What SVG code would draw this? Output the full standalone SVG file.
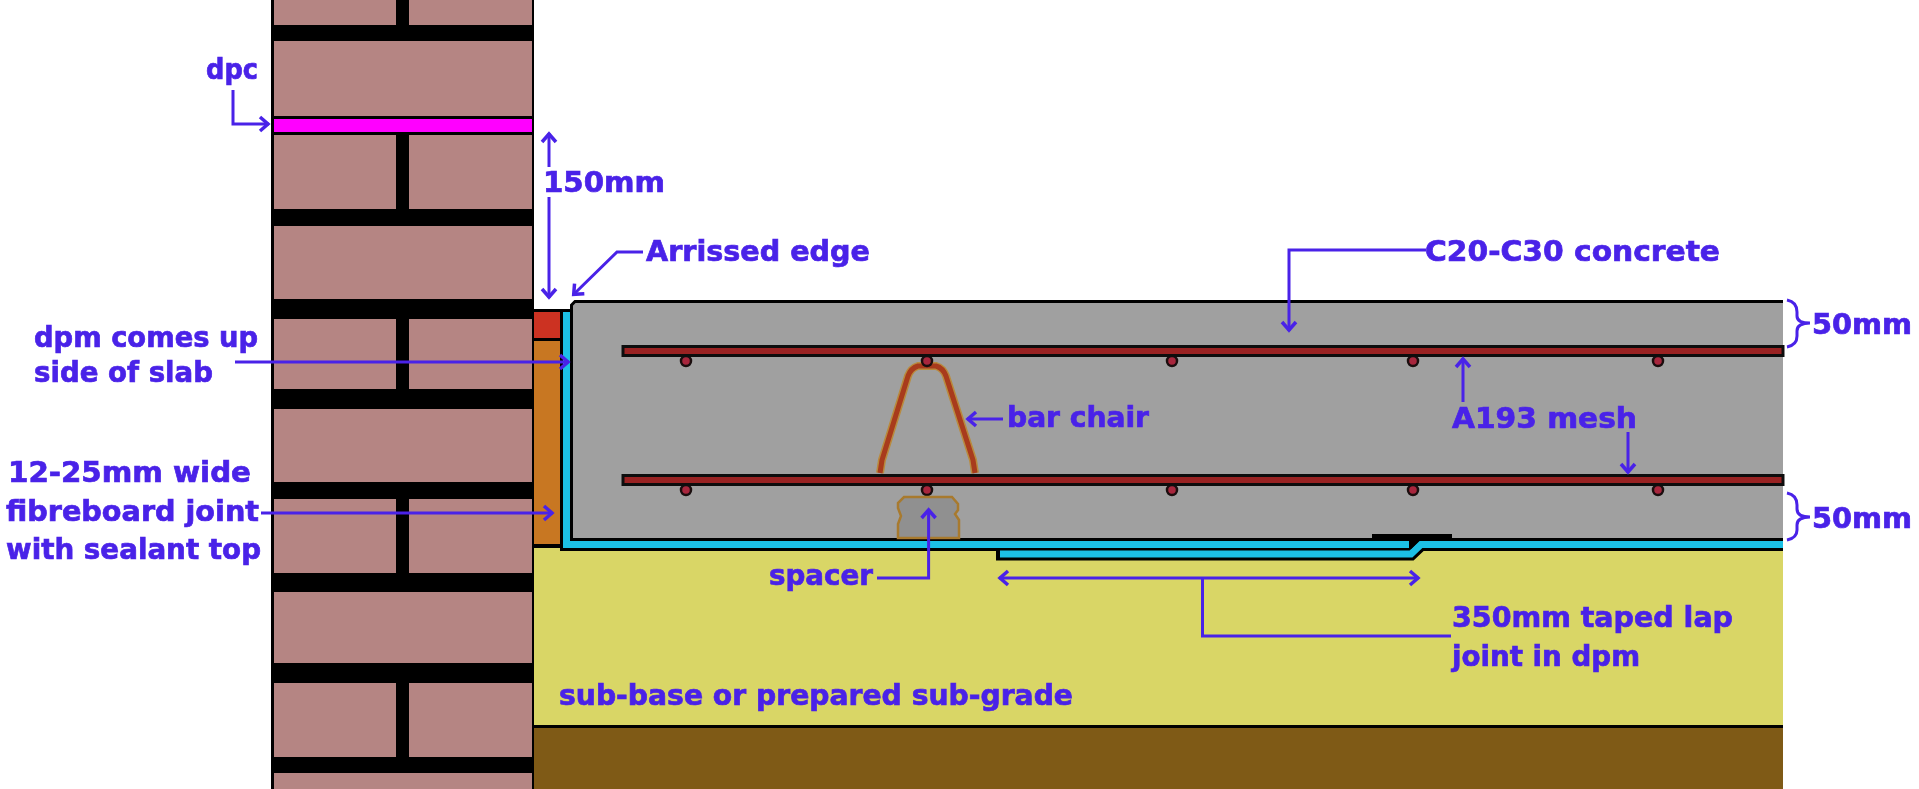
<svg xmlns="http://www.w3.org/2000/svg" width="1919" height="789" viewBox="0 0 1919 789">
<style>
.brick{fill:#b58583}
.lbl{font-family:"DejaVu Sans",sans-serif;font-weight:bold;font-size:28px;fill:#4a22e8;stroke:#4a22e8;stroke-width:.7}
.ld{fill:none;stroke:#4a22e8;stroke-width:3}
.dot{fill:#a8283c;stroke:#1a1010;stroke-width:2.500}
.k{fill:none;stroke:#000}
.c{fill:none;stroke:#1cc0e6;stroke-width:7}
.bar{fill:#992222;stroke:#111;stroke-width:3}
.soft{filter:url(#soft)}
</style>
<defs>
<filter id="soft" x="0" y="0" width="100%" height="100%" filterUnits="objectBoundingBox"><feGaussianBlur stdDeviation="0.5"/></filter>
<marker id="ah" markerUnits="userSpaceOnUse" markerWidth="20" markerHeight="20" refX="11" refY="10" orient="auto-start-reverse" overflow="visible">
<path d="M2,3 L10,10 L2,17" fill="none" stroke="#4a22e8" stroke-width="3.500"/>
</marker>
</defs>
<rect width="1919" height="789" fill="#fff"/>
<g class="soft">
<rect width="1919" height="789" fill="#fff"/>
<g id="wall">
<rect x="271" y="0" width="263" height="789" fill="#000"/>
<rect class="brick" x="274" y="0" width="122" height="25"/><rect class="brick" x="409" y="0" width="123" height="25"/>
<rect class="brick" x="274" y="41" width="258" height="75"/>
<rect class="brick" x="274" y="135" width="122" height="74"/><rect class="brick" x="409" y="135" width="123" height="74"/>
<rect class="brick" x="274" y="226" width="258" height="73"/>
<rect class="brick" x="274" y="319" width="122" height="70"/><rect class="brick" x="409" y="319" width="123" height="70"/>
<rect class="brick" x="274" y="409" width="258" height="73"/>
<rect class="brick" x="274" y="499" width="122" height="74"/><rect class="brick" x="409" y="499" width="123" height="74"/>
<rect class="brick" x="274" y="592" width="258" height="71"/>
<rect class="brick" x="274" y="683" width="122" height="74"/><rect class="brick" x="409" y="683" width="123" height="74"/>
<rect class="brick" x="274" y="773" width="258" height="16"/>
</g>
<g id="dpc-layer"><rect x="274" y="119" width="258" height="13" fill="#ff00ff"/></g>
<g id="ground">
<rect x="534" y="548" width="1249" height="177" fill="#d9d666"/>
<rect x="534" y="725" width="1249" height="3" fill="#000"/>
<rect x="534" y="728" width="1249" height="61" fill="#7f5a18"/>
</g>
<g id="joint">
<rect x="534" y="309" width="27" height="239" fill="#000"/>
<rect x="534" y="312" width="27" height="26" fill="#cc3322"/>
<rect x="534" y="341" width="26" height="203" fill="#c87722"/>
</g>
<g id="dpm">
<path class="k" stroke-width="13" d="M566.500,309 V544.500 H1412"/>
<path class="k" stroke-width="13" d="M996,554 H1411 L1421,544.500 H1783"/>
<path class="c" d="M1000,554 H1411 L1421,544.500 H1783"/>
<path class="c" d="M566.500,312 V544.500 H1409"/>
</g>
<g id="slab">
<path d="M575,301.500 H1783 V540 H571.500 V305Z" fill="#a0a0a0"/>
<path class="k" stroke-width="3" d="M1783,301.500 H575 L571.500,305 V539.500 H1783"/>
<rect x="1372" y="534" width="80" height="5" fill="#000"/>
<path d="M1409,538 H1422 L1411,549 H1409Z" fill="#000"/>
</g>
<g id="bar-chair">
<path d="M880,473 L882,460 L908,376 Q911,368 918,366 H936 Q943,368 946,376 L973,460 L975,473" fill="none" stroke="#b98a3c" stroke-width="8"/>
<path d="M880,473 L882,460 L908,376 Q911,368 918,366 H936 Q943,368 946,376 L973,460 L975,473" fill="none" stroke="#a83a1e" stroke-width="5"/>
</g>
<g id="mesh">
<circle class="dot" cx="686" cy="361" r="5"/><circle class="dot" cx="927" cy="361" r="5"/><circle class="dot" cx="1172" cy="361" r="5"/><circle class="dot" cx="1413" cy="361" r="5"/><circle class="dot" cx="1658" cy="361" r="5"/>
<circle class="dot" cx="686" cy="490" r="5"/><circle class="dot" cx="927" cy="490" r="5"/><circle class="dot" cx="1172" cy="490" r="5"/><circle class="dot" cx="1413" cy="490" r="5"/><circle class="dot" cx="1658" cy="490" r="5"/>
<rect class="bar" x="623" y="346.500" width="1160" height="9"/>
<rect class="bar" x="623" y="475.500" width="1160" height="9"/>
</g>
<g id="spacer">
<path d="M904,497 H952 L958,504 V510 L955,514 L959,520 V538 H898 V524 L901,516 L898,508 V503Z" fill="#909090" stroke="#a87a2e" stroke-width="2.500"/>
</g>
<g id="connectors">
<path class="ld" marker-end="url(#ah)" d="M233,90 V124 H269"/>
<path class="ld" marker-start="url(#ah)" d="M549,133 V167"/>
<path class="ld" marker-end="url(#ah)" d="M549,197 V298"/>
<path class="ld" marker-end="url(#ah)" d="M643,252 H617 L573,295"/>
<path class="ld" marker-end="url(#ah)" d="M1426,250 H1289 V331"/>
<path class="ld" marker-end="url(#ah)" d="M235,362 H569"/>
<path class="ld" marker-end="url(#ah)" d="M261,513 H553"/>
<path class="ld" marker-end="url(#ah)" d="M1003,419 H967"/>
<path class="ld" marker-end="url(#ah)" d="M877,578 H928.600 V509"/>
<path class="ld" marker-start="url(#ah)" marker-end="url(#ah)" d="M999,578 H1419"/>
<path class="ld" d="M1202.500,578 V636 H1451"/>
<path class="ld" marker-end="url(#ah)" d="M1463,402 V358"/>
<path class="ld" marker-end="url(#ah)" d="M1628,432 V473"/>
<path class="ld" d="M1787,300 Q1797,302 1797,312 V316 Q1797,323 1810,323 Q1797,323 1797,331 V336 Q1797,345 1787,347"/>
<path class="ld" d="M1787,493 Q1797,495 1797,505 V509 Q1797,517 1810,517 Q1797,517 1797,525 V530 Q1797,538 1787,540"/>
</g>
<g id="labels">
<text class="lbl" x="206" y="79" textLength="52" lengthAdjust="spacingAndGlyphs">dpc</text>
<text class="lbl" x="543" y="192" textLength="122" lengthAdjust="spacingAndGlyphs">150mm</text>
<text class="lbl" x="646" y="261" textLength="224" lengthAdjust="spacingAndGlyphs">Arrissed edge</text>
<text class="lbl" x="1425" y="261" textLength="295" lengthAdjust="spacingAndGlyphs">C20-C30 concrete</text>
<text class="lbl" x="34" y="347" textLength="224" lengthAdjust="spacingAndGlyphs">dpm comes up</text>
<text class="lbl" x="34" y="382" textLength="179" lengthAdjust="spacingAndGlyphs">side of slab</text>
<text class="lbl" x="8" y="482" textLength="243" lengthAdjust="spacingAndGlyphs">12-25mm wide</text>
<text class="lbl" x="6" y="521" textLength="253" lengthAdjust="spacingAndGlyphs">fibreboard joint</text>
<text class="lbl" x="6" y="559" textLength="255" lengthAdjust="spacingAndGlyphs">with sealant top</text>
<text class="lbl" x="1007" y="427" textLength="142" lengthAdjust="spacingAndGlyphs">bar chair</text>
<text class="lbl" x="1452" y="428" textLength="185" lengthAdjust="spacingAndGlyphs">A193 mesh</text>
<text class="lbl" x="769" y="585" textLength="104" lengthAdjust="spacingAndGlyphs">spacer</text>
<text class="lbl" x="1452" y="627" textLength="281" lengthAdjust="spacingAndGlyphs">350mm taped lap</text>
<text class="lbl" x="1452" y="666" textLength="188" lengthAdjust="spacingAndGlyphs">joint in dpm</text>
<text class="lbl" x="559" y="705" textLength="514" lengthAdjust="spacingAndGlyphs">sub-base or prepared sub-grade</text>
<text class="lbl" x="1812" y="334" textLength="100" lengthAdjust="spacingAndGlyphs">50mm</text>
<text class="lbl" x="1812" y="528" textLength="100" lengthAdjust="spacingAndGlyphs">50mm</text>
</g>
</g>
</svg>
